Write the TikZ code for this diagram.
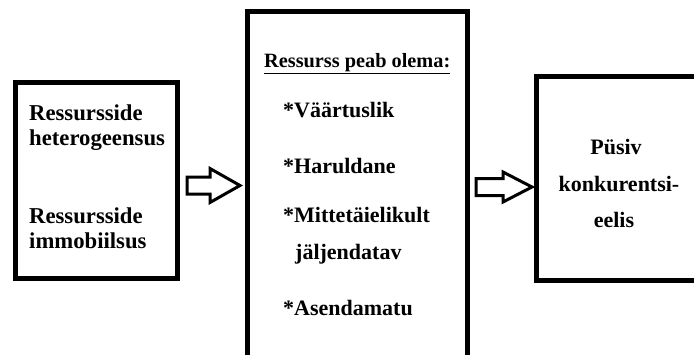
\documentclass[tikz,border=0pt]{standalone}
\usepackage{fontspec}
\setmainfont{Liberation Serif}
\begin{document}
\begin{tikzpicture}[x=1pt,y=-1pt,
  box/.style={draw=black,line width=5pt},
  blockarrow/.style={draw=black,line width=3pt,fill=white,line join=miter},
  txt/.style={anchor=base west,inner sep=0pt,font=\fontsize{22}{25}\selectfont\bfseries},
  ltxt/.style={anchor=base west,inner sep=0pt,font=\fontsize{22.7}{25}\selectfont\bfseries},
  ctxt/.style={anchor=base,inner sep=0pt,font=\fontsize{22}{25}\selectfont\bfseries},
  hdr/.style={anchor=base west,inner sep=0pt,font=\fontsize{20.3}{22}\selectfont\bfseries}]
\useasboundingbox (0,0) rectangle (694,354);
% boxes
\draw[box] (15.5,82.5) rectangle (177.5,278.5);
\draw[box] (247.5,11.5) rectangle (467.5,370);
\draw[box] (536.5,76.5) rectangle (710,280.5);
% left texts
\node[ltxt] (l1) at (29,120) {Ressursside};
\node[ltxt] (l2) at (29,145) {heterogeensus};
\node[ltxt] (l3) at (29,223) {Ressursside};
\node[ltxt] (l4) at (29,248) {immobiilsus};
% middle texts
\node[hdr] (m0) at (264,67) {\underline{Ressurss peab olema:}};
\node[txt] (m1) at (283,117) {*Väärtuslik};
\node[txt] (m2) at (283,173) {*Haruldane};
\node[txt] (m3) at (283,222) {*Mittetäielikult};
\node[txt] (m4) at (295,259) {jäljendatav};
\node[txt] (m5) at (283,315) {*Asendamatu};
% right texts
\node[ctxt] (r1) at (616,154) {Püsiv};
\node[ctxt] (r2) at (619,191) {konkurentsi-};
\node[ctxt] (r3) at (614,227) {eelis};
% block arrows
\draw[blockarrow] (187,177) -- (210,177) -- (210,168.5) -- (240,185.5) -- (210,202.5) -- (210,194) -- (187,194) -- cycle;
\draw[blockarrow] (476,178.5) -- (503,178.5) -- (503,172) -- (532,187) -- (503,202) -- (503,195.5) -- (476,195.5) -- cycle;
\end{tikzpicture}
\end{document}
